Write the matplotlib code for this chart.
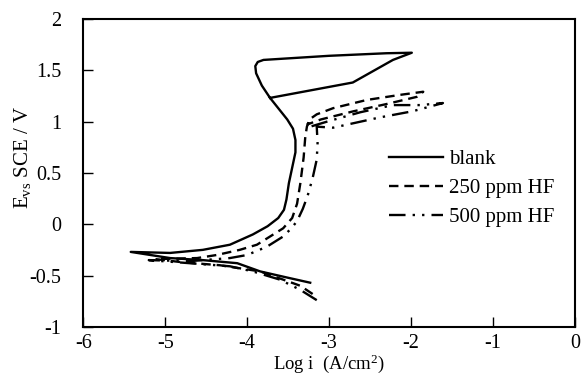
import matplotlib.pyplot as plt

plt.rcParams['font.family'] = 'Liberation Serif'
plt.rcParams['mathtext.fontset'] = 'custom'
plt.rcParams['mathtext.rm'] = 'Liberation Serif'
plt.rcParams['mathtext.it'] = 'Liberation Serif:italic'

# blank: cathodic end -> Ecorr -> anodic -> loop at the top
blank_x = [-3.23, -3.51, -3.84, -4.12, -4.54, -4.94, -5.42, -4.94, -4.54, -4.21,
           -3.93, -3.75, -3.62, -3.55, -3.52, -3.49, -3.45, -3.41, -3.41, -3.44,
           -3.51, -3.62, -3.72, -3.82, -3.89, -3.90, -3.87, -3.80, -3.00, -2.30,
           -1.99, -2.22, -2.71, -3.72]
blank_y = [-0.57, -0.52, -0.46, -0.38, -0.35, -0.33, -0.27, -0.28, -0.25, -0.20,
           -0.10, -0.02, 0.06, 0.14, 0.24, 0.40, 0.55, 0.70, 0.82, 0.93,
           1.02, 1.13, 1.23, 1.35, 1.47, 1.54, 1.58, 1.60, 1.64, 1.665,
           1.67, 1.60, 1.38, 1.23]

hf250_x = [-3.20, -3.35, -3.84, -4.33, -4.80, -5.12, -4.61, -4.37, -4.09, -3.88,
           -3.72, -3.56, -3.45, -3.39, -3.35, -3.31, -3.29, -3.27, -3.24, -3.15,
           -2.95, -2.54, -2.13, -1.85, -1.93, -2.30, -2.70, -3.10, -3.27]
hf250_y = [-0.68, -0.60, -0.46, -0.40, -0.37, -0.34, -0.33, -0.30, -0.25, -0.20,
           -0.12, -0.04, 0.06, 0.20, 0.40, 0.65, 0.85, 0.95, 1.02, 1.07,
           1.13, 1.21, 1.26, 1.29, 1.24, 1.17, 1.10, 1.02, 0.97]

hf500_x = [-3.15, -3.35, -3.60, -3.93, -4.21, -4.70, -5.20, -4.70, -4.21, -4.00,
           -3.76, -3.56, -3.46, -3.39, -3.32, -3.26, -3.20, -3.15, -3.14, -3.15,
           -2.95, -2.38, -1.98, -1.61, -1.89, -2.22, -2.62, -3.02, -3.27]
hf500_y = [-0.74, -0.64, -0.54, -0.46, -0.41, -0.38, -0.35, -0.36, -0.33, -0.30,
           -0.22, -0.12, -0.04, 0.03, 0.15, 0.28, 0.45, 0.63, 0.79, 0.95,
           0.94, 1.04, 1.10, 1.18, 1.16, 1.16, 1.09, 1.00, 0.94]

fig = plt.figure(figsize=(5.86, 3.77), dpi=100)
ax = fig.add_axes([0.142, 0.133, 0.839, 0.817])

ax.plot(blank_x, blank_y, c="black", lw=1.7, label="blank")
ax.plot(hf250_x, hf250_y, c="black", lw=1.7, dashes=(4, 2.5), label="250 ppm HF")
ax.plot(hf500_x, hf500_y, c="black", lw=1.7, dashes=(7, 3, 1, 3, 1, 3), label="500 ppm HF")

ax.set_xlim(-6, 0)
ax.set_ylim(-1, 2)
ax.set_xticks([-6, -5, -4, -3, -2, -1, 0])
ax.set_yticks([-1, -0.5, 0, 0.5, 1, 1.5, 2])
ax.set_xticklabels(["-6", "-5", "-4", "-3", "-2", "-1", "0"])
ax.set_yticklabels(["-1", "-0.5", "0", "0.5", "1", "1.5", "2"])
ax.tick_params(direction="in", length=7, width=1, labelsize=14.5)
ax.tick_params(axis="x", pad=5)
ax.tick_params(axis="y", pad=16)
for s in ax.spines.values():
    s.set_linewidth(1.5)

ax.set_xlabel("Log i  (A/cm$^2$)", fontsize=13.5)
ax.xaxis.set_label_coords(0.5, -0.083)
ax.set_ylabel("E$_{\\rm vs}$ SCE / V", fontsize=15)
ax.yaxis.set_label_coords(-0.103, 0.55)

ax.legend(loc="upper left", bbox_to_anchor=(0.583, 0.636), frameon=False, fontsize=15,
          handlelength=2.6, handletextpad=0.3, labelspacing=0.45)

fig.savefig("out.png", dpi=100)
